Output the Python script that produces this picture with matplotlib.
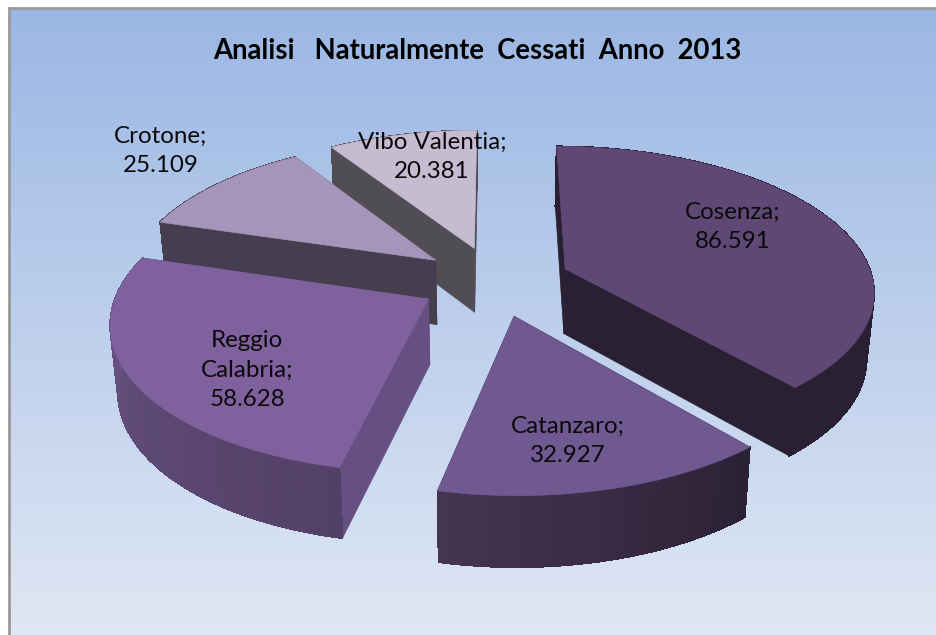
import numpy as np
import matplotlib
matplotlib.use('Agg')
import matplotlib.pyplot as plt
from matplotlib.collections import PolyCollection, LineCollection
from matplotlib.colors import to_rgb

names = ['Cosenza', 'Catanzaro', 'Reggio\nCalabria', 'Crotone', 'Vibo Valentia']
values = [86.591, 32.927, 58.628, 25.109, 20.381]
title = 'Analisi   Naturalmente  Cessati  Anno  2013'

# style per slice
top_cols = ['#5f4875', '#705890', '#7f619e', '#a695ba', '#c5bcd2']
face_cols = ['#2a2033', '#2c2238', '#654f83', '#453e4e', '#514d55']
wall_a = ['#2a2033', '#453551', '#6a5488', '#453e4e', '#514d55']
wall_b = ['#2a2033', '#2b2135', '#534066', '#453e4e', '#514d55']
label_xy = [(733, 227), (568, 441), (247, 370), (161, 151), (432, 157)]
draw_order = [4, 3, 0, 2, 1]

# fake 3d projection, pixels
cx, cy = 495, 281
R, k, p = 308, 143, 0.141
explode = 0.246
depth = 65
bottom_scale = 0.98


def project(u, v, down=False):
    s = 1 / (1 + p * v)
    x = u * R * s
    y = -v * k * s
    if down:
        return cx + x * bottom_scale, cy + y + depth * np.sqrt(s)
    return cx + x, cy + y


fig = plt.figure(figsize=(9.37, 6.35), dpi=100)
ax = fig.add_axes([0, 0, 1, 1])
ax.axis('off')

# panel background
grad = np.linspace(0, 1, 256)[:, None, None]
c1 = np.array([155, 183, 228]) / 255
c2 = np.array([223, 231, 244]) / 255
ax.imshow(c1 + (c2 - c1) * grad, extent=[9, 937, 635, 8], aspect='auto', zorder=0)
ax.plot([9, 9], [635, 8], color='#999999', lw=2, zorder=1)
ax.plot([9, 937], [8, 8], color='#999999', lw=2, zorder=1)
ax.set_xlim(0, 937)
ax.set_ylim(635, 0)

fractions = np.array(values) / sum(values)
edges = np.concatenate([[0], np.cumsum(fractions)]) * 2 * np.pi

z = 2
for i in draw_order:
    t0, t1 = edges[i], edges[i + 1]
    mid = (t0 + t1) / 2
    ou, ov = explode * np.sin(mid), explode * np.cos(mid)
    th = np.linspace(t0, t1, 120)
    us, vs = ou + np.sin(th), ov + np.cos(th)

    # flat cut faces
    for t in (t0, t1):
        eu, ev = ou + np.sin(t), ov + np.cos(t)
        quad = [project(ou, ov), project(eu, ev), project(eu, ev, True), project(ou, ov, True)]
        ax.fill(*zip(*quad), color=face_cols[i], lw=0.5, zorder=z)

    # outer wall, thin strips for the gradient
    quads = []
    cols = []
    segs = []
    a, b = np.array(to_rgb(wall_a[i])), np.array(to_rgb(wall_b[i]))
    for j in range(len(th) - 1):
        quads.append([project(us[j], vs[j]), project(us[j + 1], vs[j + 1]),
                      project(us[j + 1], vs[j + 1], True), project(us[j], vs[j], True)])
        segs.append([project(us[j], vs[j], True), project(us[j + 1], vs[j + 1], True)])
        f = j / (len(th) - 2)
        if i in (1, 2):
            f = 1 - f  # these run right to left on screen
        cols.append(a + (b - a) * f)
    ax.add_collection(PolyCollection(quads, facecolors=cols, edgecolors=cols, lw=0.6,
                                     antialiaseds=False, zorder=z))
    ax.add_collection(LineCollection(segs, colors=cols, lw=0.8, zorder=z))

    # top face
    top = [project(ou, ov)] + [project(uu, vv) for uu, vv in zip(us, vs)]
    ax.fill(*zip(*top), color=top_cols[i], lw=0.5, zorder=z)
    z += 1

for n, val, (x, y) in zip(names, values, label_xy):
    ax.text(x, y, f'{n};\n{val:.3f}', ha='center', va='center', fontsize=17.4,
            family='Lato', color='#0a0a0a', linespacing=1.5, zorder=20)

ax.text(477, 51, title, ha='center', va='center', fontsize=19.8, fontweight='bold',
        family='Lato', color='black', zorder=20)

fig.savefig('out.png', dpi=100)
